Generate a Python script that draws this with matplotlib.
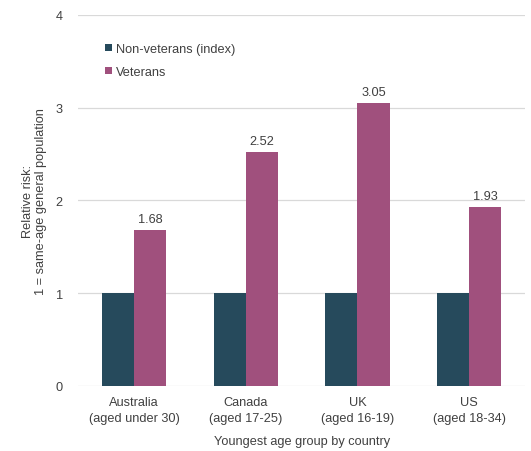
import numpy as np
import matplotlib
matplotlib.use('Agg')
import matplotlib.pyplot as plt

plt.rcParams['font.family'] = ['Liberation Sans', 'DejaVu Sans']

# data
countries = ['Australia\n(aged under 30)', 'Canada\n(aged 17-25)',
             'UK\n(aged 16-19)', 'US\n(aged 18-34)']
non_veterans = [1, 1, 1, 1]
veterans = [1.68, 2.52, 3.05, 1.93]

dark = '#264a5c'
pink = '#a0507d'
txt = '#404040'
fs = 9.2

fig = plt.figure(figsize=(5.31, 4.52), dpi=100)
ax = fig.add_axes([0.147, 0.144, 0.842, 0.821])

x = np.arange(len(countries))
w = 0.287
ax.bar(x - w/2, non_veterans, w, color=dark, label='Non-veterans (index)', zorder=3)
b = ax.bar(x + w/2, veterans, w, color=pink, label='Veterans', zorder=3)
for rect, v in zip(b, veterans):
    ax.text(rect.get_x() + rect.get_width()/2, v + 0.05, '%.2f' % v,
            ha='center', va='bottom', fontsize=fs, color=txt)

ax.set_xlim(-0.5, 3.5)
ax.set_ylim(0, 4)
ax.set_yticks([0, 1, 2, 3, 4])
ax.set_xticks(x)
ax.set_xticklabels(countries, fontsize=fs, color=txt, linespacing=1.45)
ax.tick_params(axis='y', labelsize=fs, labelcolor=txt, length=0, pad=11)
ax.tick_params(axis='x', length=0, pad=7)
ax.grid(axis='y', color='#d9d9d9', linewidth=0.9, zorder=0)
for s in ax.spines.values():
    s.set_visible(False)

ax.set_ylabel('Relative risk:\n1 = same-age general population', fontsize=fs,
              color=txt, labelpad=6)
ax.set_xlabel('Youngest age group by country', fontsize=fs, color=txt, labelpad=8)

ax.legend(loc='upper left', bbox_to_anchor=(0.035, 0.955), frameon=False,
          fontsize=fs, handlelength=0.55, handleheight=0.55, handletextpad=0.3,
          labelspacing=0.85, labelcolor=txt)

plt.savefig('out.png', dpi=100)
